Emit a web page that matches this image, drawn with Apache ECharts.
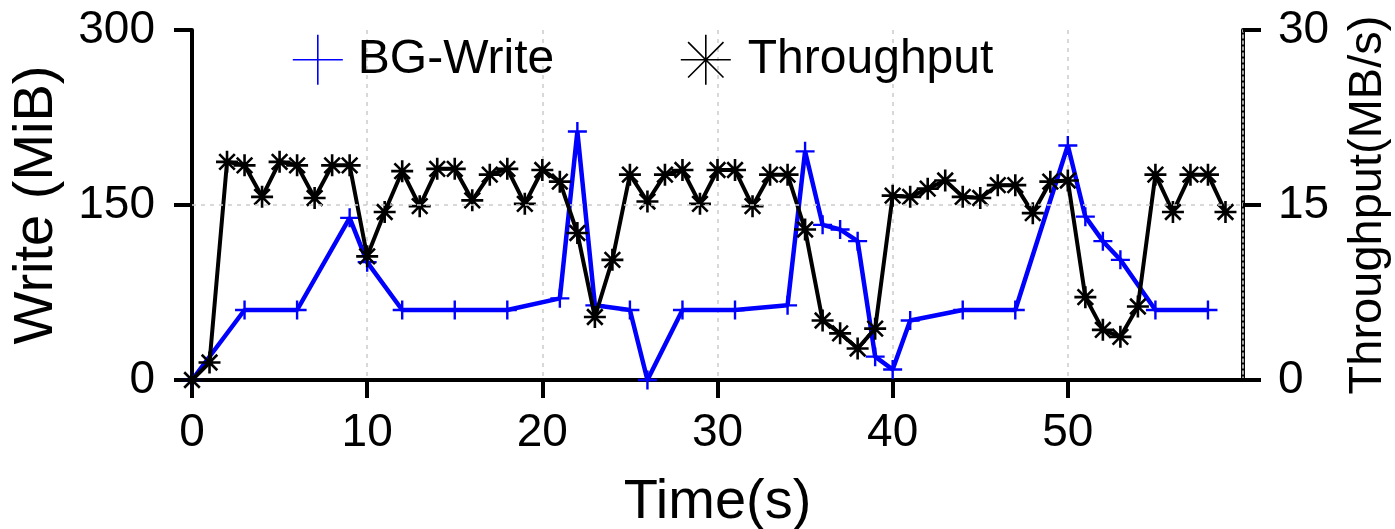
<!DOCTYPE html>
<html>
<head>
<meta charset="utf-8">
<script src="https://cdn.jsdelivr.net/npm/echarts@6/dist/echarts.min.js"></script>
<style>html,body{margin:0;padding:0;background:#fff;}#c{width:1395px;height:529px;}</style>
</head>
<body>
<div id="c"></div>
<script>
// BG-Write (MiB) samples: time (s) and value
const writeTime = [0,3,6,9,10,12,15,18,21,22,23,25,26,28,31,34,35,36,37,38,39,40,41,44,47,50,51,52,53,55,58];
const writeVals = [0,60,60,139,101,60,60,60,70,213,64,60,0,60,60,64,196,133,129,119,20,9,51,60,60,201,140,119,103,60,60];
// Throughput (MB/s) samples
const thrTime = [0,1,2,3,4,5,6,7,8,9,10,11,12,13,14,15,16,17,18,19,20,21,22,23,24,25,26,27,28,29,30,31,32,33,34,35,36,37,38,39,40,41,42,43,44,45,46,47,48,49,50,51,52,53,54,55,56,57,58,59];
const thrVals = [0,1.5,18.7,18.4,15.7,18.7,18.4,15.6,18.4,18.4,10.6,14.4,17.9,14.9,18.1,18.1,15.4,17.6,18.1,15.1,18.0,17.0,12.6,5.4,10.3,17.6,15.3,17.6,18.0,15.1,18.0,18.0,14.9,17.6,17.6,12.9,5.1,4.0,2.7,4.4,15.8,15.7,16.4,17.1,15.7,15.6,16.7,16.7,14.3,17.0,17.1,7.1,4.3,3.7,6.3,17.6,14.4,17.6,17.6,14.4];
const xTicks = [0,10,20,30,40,50];
const leftTicks = [0,150,300];
const rightTicks = [0,15,30];

const FONT = 'Liberation Sans';
const PLUS = 'path://M0,5L10,5M5,0L5,10';
const STAR = 'path://M0,5L10,5M5,0L5,10M1.46,1.46L8.54,8.54M8.54,1.46L1.46,8.54';

const chart = echarts.init(document.getElementById('c'));
chart.setOption({
  animation: false,
  textStyle: {fontFamily: FONT, color: '#000'},
  grid: {left: 192, right: 152, top: 30, bottom: 149, containLabel: false, outerBoundsMode: 'none'},
  legend: [
    {data: [{name: 'BG-Write', icon: PLUS, itemStyle: {color: 'transparent', borderColor: '#0000ff', borderWidth: 1.6}}],
     left: 287, top: 29, itemWidth: 50, itemHeight: 50,
     textStyle: {fontSize: 48, fontFamily: FONT, color: '#000', padding: [0,0,0,10]}},
    {data: [{name: 'Throughput', icon: STAR, itemStyle: {color: 'transparent', borderColor: '#000', borderWidth: 1.6}}],
     left: 675, top: 29, itemWidth: 50, itemHeight: 50,
     textStyle: {fontSize: 48, fontFamily: FONT, color: '#000', padding: [0,0,0,12]}}
  ],
  xAxis: {
    type: 'value', min: 0, max: 60, interval: 10,
    name: 'Time(s)', nameLocation: 'middle', nameGap: 95,
    nameTextStyle: {fontSize: 56, fontFamily: FONT, color: '#000'},
    axisLine: {onZero: false, lineStyle: {color: '#000', width: 4}},
    axisTick: {inside: false, length: 18, lineStyle: {color: '#000', width: 4}, customValues: xTicks},
    axisLabel: {fontSize: 46, margin: 30, color: '#000', fontFamily: FONT, customValues: xTicks},
    splitLine: {show: true, lineStyle: {color: '#cccccc', width: 1.5, type: [4, 5]}}
  },
  yAxis: [
    {
      type: 'value', min: 0, max: 300, interval: 150, position: 'left',
      name: 'Write (MiB)', nameLocation: 'middle', nameGap: 127, nameRotate: 90,
      nameTextStyle: {fontSize: 56, fontFamily: FONT, color: '#000'},
      axisLine: {show: true, lineStyle: {color: '#000', width: 4}},
      axisTick: {show: true, length: 18, lineStyle: {color: '#000', width: 4}, customValues: leftTicks},
      axisLabel: {fontSize: 46, margin: 37, color: '#000', fontFamily: FONT, customValues: leftTicks},
      splitLine: {show: false}
    },
    {
      type: 'value', min: 0, max: 30, interval: 15, position: 'right',
      name: 'Throughput(MB/s)', nameLocation: 'middle', nameGap: 102, nameRotate: 90,
      nameTextStyle: {fontSize: 47, fontFamily: FONT, color: '#000'},
      axisLine: {show: true, lineStyle: {color: '#000', width: 4}},
      axisTick: {show: true, length: 18, lineStyle: {color: '#000', width: 4}, customValues: rightTicks},
      axisLabel: {fontSize: 46, margin: 35, color: '#000', fontFamily: FONT, customValues: rightTicks},
      splitLine: {show: false}
    },
    {
      type: 'value', min: 0, max: 30, interval: 15, position: 'right',
      axisLine: {show: true, lineStyle: {color: '#dddddd', width: 1.5, type: [3, 3]}},
      axisTick: {show: false}, axisLabel: {show: false}, splitLine: {show: false}
    }
  ],
  series: [
    {
      name: 'BG-Write', type: 'line', yAxisIndex: 0,
      data: writeTime.map((t, i) => [t, writeVals[i]]),
      symbol: PLUS, symbolSize: 19, showAllSymbol: true,
      lineStyle: {color: '#0000ff', width: 4.5},
      itemStyle: {color: 'transparent', borderColor: '#0000ff', borderWidth: 2.4},
      z: 3,
      markLine: {
        silent: true, symbol: 'none', label: {show: false},
        lineStyle: {color: '#cccccc', width: 1.5, type: [4, 5]},
        data: [{yAxis: 150}]
      }
    },
    {
      name: 'Throughput', type: 'line', yAxisIndex: 1,
      data: thrTime.map((t, i) => [t, thrVals[i]]),
      symbol: STAR, symbolSize: 22, showAllSymbol: true,
      lineStyle: {color: '#000', width: 4},
      itemStyle: {color: 'transparent', borderColor: '#000', borderWidth: 2.6},
      z: 4
    }
  ]
});
</script>
</body>
</html>
